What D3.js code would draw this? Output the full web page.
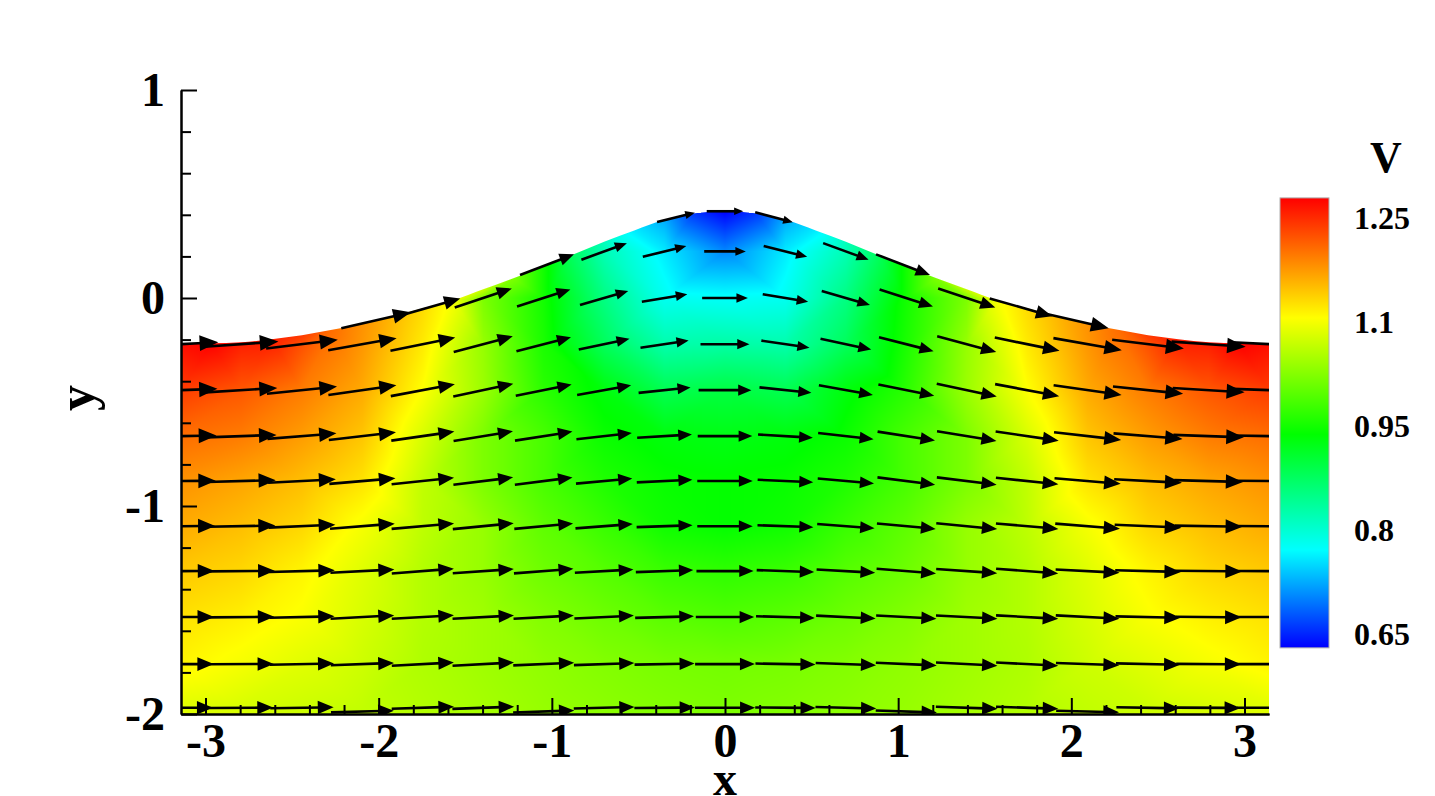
<!DOCTYPE html>
<meta charset="utf-8">

<!-- Load d3.js -->
<script src="https://d3js.org/d3.v7.min.js"></script>

<style>
  html, body { margin: 0; padding: 0; background: #fff; overflow: hidden; }
  svg { display: block; }
  text { font-family: "Liberation Serif", serif; font-weight: bold; fill: #000; }
</style>

<div id="my_dataviz"></div>

<script>

// grid columns and rows of the vector field
var colX = [-3.142,-2.793,-2.443,-2.094,-1.745,-1.396,-1.047,-0.698,-0.349,0,0.349,0.698,1.047,1.396,1.745,2.094,2.443,2.793,3.142];
var rowY = [0.224,0,-0.222,-0.443,-0.664,-0.88,-1.097,-1.313,-1.534,-1.76,-1.97];
var bottomRowY = [-1.97,-1.97,-1.97,-1.988,-1.97,-1.97,-1.988,-1.97,-1.97,-1.97,-1.97,-1.97,-1.988,-1.97,-1.97,-1.988,-1.97,-1.97,-1.97];

// V at each grid node (null = above the surface)
var gridV = [
  [null,null,null,null,null,null,null,.82,.76,.705,.76,.82,null,null,null,null,null,null,null],
  [null,null,null,null,null,1.02,.95,.853,.78,.775,.78,.853,.95,1.02,null,null,null,null,null],
  [1.27,1.258,1.225,1.177,1.12,1.037,.955,.879,.825,.83,.825,.879,.955,1.037,1.12,1.177,1.225,1.258,1.27],
  [1.238,1.22,1.195,1.164,1.105,1.04,.965,.93,.885,.895,.885,.93,.965,1.04,1.105,1.164,1.195,1.22,1.238],
  [1.205,1.195,1.173,1.145,1.08,1.02,.985,.945,.93,.925,.93,.945,.985,1.02,1.08,1.145,1.173,1.195,1.205],
  [1.18,1.167,1.15,1.125,1.065,1.02,.985,.958,.943,.94,.943,.958,.985,1.02,1.065,1.125,1.15,1.167,1.18],
  [1.163,1.15,1.133,1.1,1.063,1.037,1,.975,.948,.94,.948,.975,1,1.037,1.063,1.1,1.133,1.15,1.163],
  [1.143,1.133,1.113,1.085,1.056,1.037,1.01,.994,.975,.968,.975,.994,1.01,1.037,1.056,1.085,1.113,1.133,1.143],
  [1.126,1.116,1.103,1.08,1.056,1.043,1.024,1.01,.997,.99,.997,1.01,1.024,1.043,1.056,1.08,1.103,1.116,1.126],
  [1.113,1.1,1.086,1.073,1.053,1.043,1.033,1.024,1.017,1.014,1.017,1.024,1.033,1.043,1.053,1.073,1.086,1.1,1.113],
  [1.086,1.08,1.073,1.066,1.056,1.047,1.037,1.03,1.024,1.02,1.024,1.03,1.037,1.047,1.056,1.066,1.073,1.08,1.086]
];

// direction of the arrow at each grid node, degrees
var gridAngle = [
  [null,null,null,null,null,null,null,20,14,0,-14,-20,null,null,null,null,null,null,null],
  [null,null,null,null,null,18.4,17.8,16.4,9.3,0,-9.3,-16.4,-17.8,-18.4,null,null,null,null,null],
  [3,4,7,10,11.5,15,14.4,12,8.4,0,-8.4,-12,-14.4,-15,-11.5,-10,-7,-4,-3],
  [2,3.5,6,8.2,10.6,12.1,11.3,10.2,6,0,-6,-10.2,-11.3,-12.1,-10.6,-8.2,-6,-3.5,-2],
  [1,2,4.6,6.5,8.2,9.3,8.9,6.4,3.4,0,-3.4,-6.4,-8.9,-9.3,-8.2,-6.5,-4.6,-2,-1],
  [.5,1.5,3,4.9,6,7,7.2,5.2,2.7,0,-2.7,-5.2,-7.2,-7,-6,-4.9,-3,-1.5,-.5],
  [.4,1,2.5,4.5,5,5.5,5.3,4.3,2,0,-2,-4.3,-5.3,-5.5,-5,-4.5,-2.5,-1,-.4],
  [.3,.5,1.5,3,4.4,3.9,4.4,3.2,2,0,-2,-3.2,-4.4,-3.9,-4.4,-3,-1.5,-.5,-.3],
  [.2,.5,1.3,3,3.2,3,3.1,2.8,1.6,0,-1.6,-2.8,-3.1,-3,-3.2,-3,-1.3,-.5,-.2],
  [0,.3,1.2,2,3,3,2.5,2,1,0,-1,-2,-2.5,-3,-3,-2,-1.2,-.3,0],
  [0,.3,1,1.5,1.8,2,2,1.5,.5,0,-.5,-1.5,-2,-2,-1.8,-1.5,-1,-.3,0]
];

// free surface nodes
var surfX = [-3.142,-2.967,-2.793,-2.618,-2.443,-2.269,-2.094,-1.92,-1.745,-1.571,-1.396,-1.222,-1.047,-.873,-.698,-.524,-.349,-.175,0,.175,.349,.524,.698,.873,1.047,1.222,1.396,1.571,1.745,1.92,2.094,2.269,2.443,2.618,2.793,2.967,3.142];
var surfY = [-.22,-.218,-.213,-.198,-.179,-.153,-.124,-.088,-.049,-.011,.042,.095,.152,.21,.27,.325,.376,.407,.417,.407,.376,.325,.27,.21,.152,.095,.042,-.011,-.049,-.088,-.124,-.153,-.179,-.198,-.213,-.218,-.22];
var surfV = [1.279,1.279,1.27,1.26,1.24,1.205,1.18,1.155,1.13,1.1,1.07,1.02,.95,.873,.815,.76,.725,.66,.63,.66,.725,.76,.815,.873,.95,1.02,1.07,1.1,1.13,1.155,1.18,1.205,1.24,1.26,1.27,1.279,1.279];

// arrows that sit on the surface, between the grid rows
var surfArrowX = [-2.015,-1.709,-1.028,-.283,0,.283,1.028,1.709,2.015];
var surfArrowY = [-.107,-.045,.16,.388,.417,.388,.16,-.045,-.107];
var surfArrowV = [1.21,1.1,.98,.66,.62,.66,.98,1.1,1.21];
var surfArrowAngle = [12.9,16,21,13.7,0,-14.7,-21,-16,-12.9];

// colour map and ticks
var colorStops = [.63,.771,.938,1.106,1.279];
var colorNames = ["#0000ff","#00ffff","#00ff00","#ffff00","#ff0000"];
var xMajor = [-3,-2,-1,0,1,2,3];
var xMinor = d3.range(-3,3.01,.2).map(function(d) { return +d.toFixed(1); }).filter(function(d) { return d % 1 != 0; });
var yMajor = [-2,-1,0,1];
var yMinor = d3.range(-2,1.01,.2).map(function(d) { return +d.toFixed(1); }).filter(function(d) { return d % 1 != 0; });
var legendTicks = [.65,.8,.95,1.1,1.25];

var width = 1435, height = 796;
var x = d3.scaleLinear().domain([-Math.PI, Math.PI]).range([181, 1269]);
var y = d3.scaleLinear().domain([-2, 1]).range([714, 90]);
var color = d3.scaleLinear().domain(colorStops).range(colorNames).clamp(true);
var legendY = d3.scaleLinear().domain([.65, 1.25]).range([634, 218]);
var arrowLen = d3.scaleLinear().domain([0, 1]).range([0, 59]);

var svg = d3.select("#my_dataviz").append("svg")
    .attr("width", width)
    .attr("height", height);

var defs = svg.append("defs");
defs.append("clipPath").attr("id", "plotclip").append("rect")
    .attr("x", x.range()[0]).attr("y", y(1))
    .attr("width", x.range()[1] - x.range()[0]).attr("height", y(-2) - y(1));

// nodes of the colour field: grid, surface, and the bed below the last row
var nodes = [];
gridV.forEach(function(row, i) {
  row.forEach(function(v, k) {
    if (v !== null) nodes.push([x(colX[k]), i == rowY.length - 1 ? y(bottomRowY[0]) : y(rowY[i]), v]);
  });
});
surfX.forEach(function(d, k) { nodes.push([x(d), y(surfY[k]), surfV[k]]); });
gridV[gridV.length - 1].forEach(function(v, k) { nodes.push([x(colX[k]), y(-2), v]); });

// shade the triangles pixel by pixel, as tecplot does
var x0 = x.range()[0], y0 = y(1), cw = x.range()[1] - x0, ch = y(-2) - y0;
var canvas = document.createElement("canvas");
canvas.width = cw; canvas.height = ch;
var ctx = canvas.getContext("2d");
var img = ctx.createImageData(cw, ch);
var tri = d3.Delaunay.from(nodes, function(d) { return d[0]; }, function(d) { return d[1]; }).triangles;
for (var t = 0; t < tri.length; t += 3) {
  var a = nodes[tri[t]], b = nodes[tri[t + 1]], c = nodes[tri[t + 2]];
  var den = (b[1] - c[1]) * (a[0] - c[0]) + (c[0] - b[0]) * (a[1] - c[1]);
  if (Math.abs(den) < 1e-6) continue;
  var minX = Math.max(0, Math.floor(Math.min(a[0], b[0], c[0]) - x0)), maxX = Math.min(cw - 1, Math.ceil(Math.max(a[0], b[0], c[0]) - x0));
  var minY = Math.max(0, Math.floor(Math.min(a[1], b[1], c[1]) - y0)), maxY = Math.min(ch - 1, Math.ceil(Math.max(a[1], b[1], c[1]) - y0));
  for (var py = minY; py <= maxY; py++) {
    for (var px = minX; px <= maxX; px++) {
      var sx = px + x0 + .5, sy = py + y0 + .5;
      var l1 = ((b[1] - c[1]) * (sx - c[0]) + (c[0] - b[0]) * (sy - c[1])) / den;
      var l2 = ((c[1] - a[1]) * (sx - c[0]) + (a[0] - c[0]) * (sy - c[1])) / den;
      var l3 = 1 - l1 - l2;
      if (l1 < -.01 || l2 < -.01 || l3 < -.01) continue;
      var rgb = d3.rgb(color(l1 * a[2] + l2 * b[2] + l3 * c[2]));
      var o = (py * cw + px) * 4;
      img.data[o] = rgb.r; img.data[o + 1] = rgb.g; img.data[o + 2] = rgb.b; img.data[o + 3] = 255;
    }
  }
}
ctx.putImageData(img, 0, 0);

// cut the field along the surface
var surfaceArea = d3.area()
    .x(function(d, i) { return x(d); })
    .y0(y(-2))
    .y1(function(d, i) { return y(surfY[i]); })
    .curve(d3.curveMonotoneX);
defs.append("clipPath").attr("id", "surfclip").append("path").attr("d", surfaceArea(surfX));

svg.append("image")
    .attr("x", x0).attr("y", y0)
    .attr("width", cw).attr("height", ch)
    .attr("href", canvas.toDataURL())
    .attr("clip-path", "url(#surfclip)");

// arrows
var arrows = [];
gridV.forEach(function(row, i) {
  row.forEach(function(v, k) {
    if (v !== null) arrows.push({x: colX[k], y: i == rowY.length - 1 ? bottomRowY[k] : rowY[i], v: v, a: gridAngle[i][k]});
  });
});
surfArrowX.forEach(function(d, k) {
  arrows.push({x: d, y: surfArrowY[k], v: surfArrowV[k], a: surfArrowAngle[k]});
});

function ends(d) {
  var L = arrowLen(d.v), r = d.a * Math.PI / 180;
  return {L: L, c: Math.cos(r), s: Math.sin(r), cx: x(d.x), cy: y(d.y)};
}

var arrowG = svg.append("g").attr("clip-path", "url(#plotclip)");
arrowG.selectAll("line")
  .data(arrows)
  .enter()
  .append("line")
    .attr("x1", function(d) { var e = ends(d); return e.cx - e.c * e.L / 2; })
    .attr("y1", function(d) { var e = ends(d); return e.cy + e.s * e.L / 2; })
    .attr("x2", function(d) { var e = ends(d); return e.cx + e.c * e.L * .3; })
    .attr("y2", function(d) { var e = ends(d); return e.cy - e.s * e.L * .3; })
    .attr("stroke", "#000")
    .attr("stroke-width", 2.6);

arrowG.selectAll("polygon")
  .data(arrows)
  .enter()
  .append("polygon")
    .attr("fill", "#000")
    .attr("points", function(d) {
      var e = ends(d);
      var tx = e.cx + e.c * e.L / 2, ty = e.cy - e.s * e.L / 2;
      var bx = tx - e.c * e.L * .25, by = ty + e.s * e.L * .25;
      var w = e.L * .105;
      return [tx, ty, bx - e.s * w, by - e.c * w, bx + e.s * w, by + e.c * w].join(" ");
    });

// axes
function styleAxis(g) {
  g.selectAll("path,line").attr("stroke", "#000").attr("stroke-width", 2);
  g.selectAll("text").style("font-size", "48px");
}

svg.append("g")
    .attr("transform", "translate(0," + y(-2) + ")")
    .call(d3.axisBottom(x).tickValues(xMajor).tickSizeInner(-16).tickSizeOuter(0).tickPadding(9).tickFormat(String))
    .call(styleAxis);
svg.append("g")
    .attr("transform", "translate(0," + y(-2) + ")")
    .call(d3.axisBottom(x).tickValues(xMinor).tickSizeInner(-9).tickSizeOuter(0).tickFormat(""))
    .call(styleAxis);
svg.append("g")
    .attr("transform", "translate(" + x(-Math.PI) + ",0)")
    .call(d3.axisLeft(y).tickValues(yMajor).tickSizeInner(-16).tickSizeOuter(0).tickPadding(16).tickFormat(String))
    .call(styleAxis);
svg.append("g")
    .attr("transform", "translate(" + x(-Math.PI) + ",0)")
    .call(d3.axisLeft(y).tickValues(yMinor).tickSizeInner(-10).tickSizeOuter(0).tickFormat(""))
    .call(styleAxis);

svg.append("text")
    .attr("x", x(0)).attr("y", 795)
    .attr("text-anchor", "middle")
    .style("font-size", "48px")
    .text("x");
svg.append("text")
    .attr("transform", "translate(94,398)rotate(-90)")
    .attr("text-anchor", "middle")
    .style("font-size", "52px")
    .text("y");

// colour bar
var grad = defs.append("linearGradient").attr("id", "legendgrad")
    .attr("x1", 0).attr("x2", 0).attr("y1", 1).attr("y2", 0);
grad.selectAll("stop")
  .data(colorStops)
  .enter()
  .append("stop")
    .attr("offset", function(d) { return (d - .63) / (1.279 - .63); })
    .attr("stop-color", function(d, i) { return colorNames[i]; });

svg.append("rect")
    .attr("x", 1280).attr("y", legendY(1.279))
    .attr("width", 49).attr("height", legendY(.63) - legendY(1.279))
    .attr("fill", "url(#legendgrad)")
    .attr("stroke", "#b0b0b0")
    .attr("stroke-width", 1);

svg.append("g")
    .attr("transform", "translate(1329,0)")
    .call(d3.axisRight(legendY).tickValues(legendTicks).tickSize(0).tickPadding(25).tickFormat(function(d) { return String(d); }))
    .call(function(g) {
      g.select(".domain").remove();
      g.selectAll("text").style("font-size", "32px");
    });

svg.append("text")
    .attr("x", 1386).attr("y", 172)
    .attr("text-anchor", "middle")
    .style("font-size", "44px")
    .text("V");

</script>
